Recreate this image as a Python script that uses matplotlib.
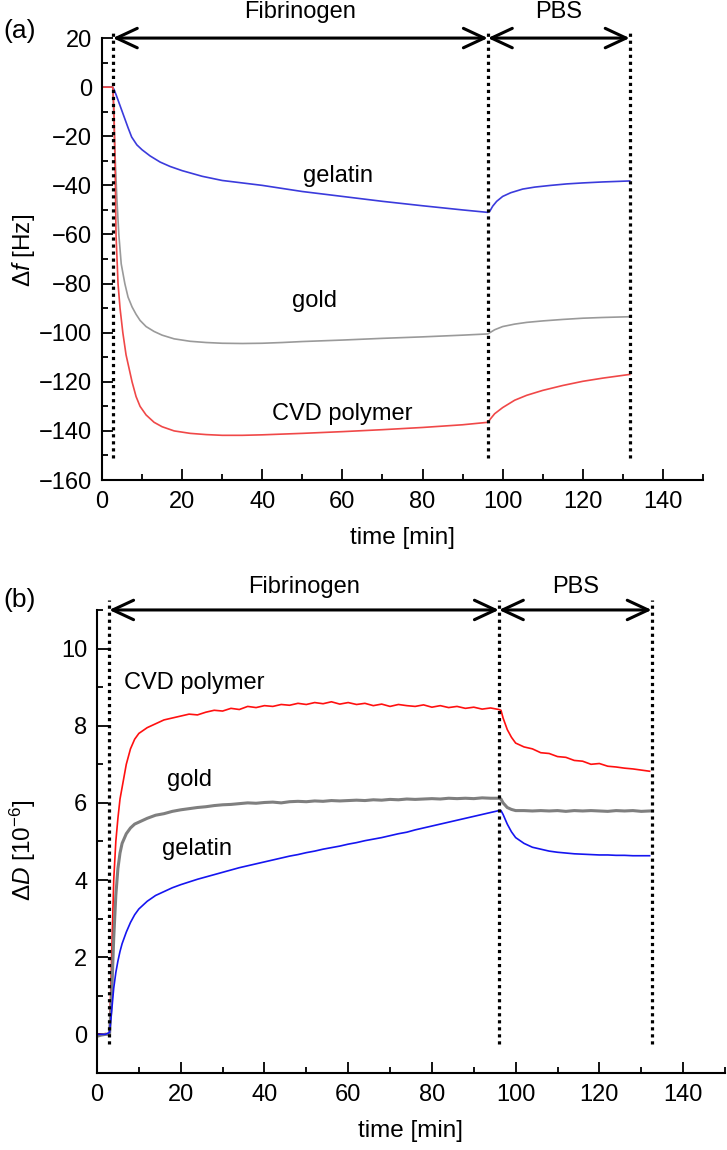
import matplotlib
matplotlib.use("Agg")
import matplotlib.pyplot as plt
from matplotlib.ticker import MultipleLocator

plt.rcParams["font.family"] = ["Liberation Sans", "DejaVu Sans"]
plt.rcParams["mathtext.fontset"] = "custom"
plt.rcParams["mathtext.it"] = "Liberation Sans:italic"
plt.rcParams["mathtext.rm"] = "Liberation Sans"

# panel (a): frequency shift
t_gelatin_a = [0, 2.7, 3.0, 3.5, 4.5, 5.5, 6.5, 7.4, 8.7, 10, 12, 14.5, 17, 20, 25, 30, 35,
               40, 50, 60, 70, 80, 90, 96.3, 96.8, 97.5, 98.5, 100, 102, 105, 108, 112, 116,
               120, 125, 131.7]
f_gelatin = [0, 0, -1, -3, -7.5, -12, -16.5, -20.3, -23.5, -25.5, -28, -30.5, -32.3, -34,
             -36.3, -38, -39, -40, -42.5, -44.5, -46.5, -48.3, -50, -51, -50.5, -48.5,
             -46.5, -44.5, -43, -41.5, -40.7, -40, -39.4, -39, -38.6, -38.2]

t_gold_a = [0, 2.7, 3.2, 3.7, 4.2, 4.8, 5.7, 6.5, 7.5, 8.5, 9.5, 11, 13, 15, 18, 22, 26, 30,
            35, 40, 45, 50, 60, 70, 80, 90, 96.3, 97, 98, 100, 103, 106, 110, 115, 120, 125,
            131.7]
f_gold = [0, 0, -25, -45, -60, -72, -80, -85.5, -89.5, -92.5, -95, -97.5, -99.5, -101,
          -102.5, -103.5, -104, -104.3, -104.4, -104.3, -104, -103.6, -103, -102.3, -101.7,
          -101, -100.5, -99.8, -98.8, -97.5, -96.5, -95.8, -95.2, -94.6, -94.1, -93.8, -93.5]

t_cvd_a = [0, 2.7, 3.0, 3.3, 3.5, 4.0, 4.5, 5.2, 6.0, 7.5, 8.5, 9.5, 11, 13, 15, 18, 22, 26,
           30, 35, 40, 50, 60, 70, 80, 90, 96.3, 97, 98, 100, 103, 106, 110, 115, 120, 125,
           131.7]
f_cvd = [0, 0, -10, -35, -60, -80, -90, -100, -109, -120, -126, -130, -133.5, -136.5, -138.3,
         -140, -141, -141.5, -141.8, -141.8, -141.6, -141, -140.3, -139.5, -138.6, -137.5,
         -136.5, -135, -133, -130.5, -127.5, -125.5, -123.5, -121.5, -119.8, -118.5, -117]

# panel (b): dissipation shift
t_b = [0, 1, 2, 3, 3.5, 4, 4.5, 5, 5.5, 6, 7, 8, 9, 10,
       12, 14, 16, 18, 20, 22, 24, 26, 28, 30, 32, 34, 36, 38, 40, 42, 44, 46, 48, 50,
       52, 54, 56, 58, 60, 62, 64, 66, 68, 70, 72, 74, 76, 78, 80, 82, 84, 86, 88, 90,
       92, 94, 96, 96.5, 97, 98, 99, 100,
       102, 104, 106, 108, 110, 112, 114, 116, 118, 120, 122, 124, 126, 128, 130, 132]
d_cvd = [0.0, 0.0, 0.02, 0.0, 2.0, 4.0, 5.0, 5.6, 6.1, 6.4, 7.0, 7.4, 7.65, 7.8,
         7.95, 8.05, 8.15, 8.2, 8.25, 8.3, 8.28, 8.35, 8.4, 8.38, 8.45, 8.42, 8.5, 8.47,
         8.52, 8.5, 8.55, 8.53, 8.58, 8.55, 8.6, 8.57, 8.62, 8.56, 8.6, 8.55, 8.58, 8.52,
         8.56, 8.5, 8.55, 8.52, 8.5, 8.54, 8.48, 8.52, 8.47, 8.5, 8.45, 8.48, 8.43, 8.46,
         8.42, 8.4, 8.2, 7.9, 7.7, 7.55,
         7.45, 7.4, 7.3, 7.28, 7.2, 7.18, 7.1, 7.08, 7.0, 7.02, 6.95, 6.93, 6.9, 6.88,
         6.85, 6.82]
d_gold = [-0.05, -0.02, 0.0, 0.0, 1.0, 2.5, 3.6, 4.3, 4.7, 4.95, 5.2, 5.35, 5.45, 5.5,
          5.6, 5.68, 5.72, 5.78, 5.82, 5.85, 5.88, 5.9, 5.93, 5.95, 5.96, 5.98, 6.0, 5.99,
          6.01, 6.02, 6.0, 6.03, 6.04, 6.03, 6.05, 6.04, 6.06, 6.05, 6.06, 6.07, 6.06, 6.08,
          6.07, 6.09, 6.08, 6.1, 6.09, 6.1, 6.11, 6.1, 6.12, 6.11, 6.12, 6.11, 6.13, 6.12,
          6.12, 6.1, 6.0, 5.88, 5.83, 5.8,
          5.8, 5.79, 5.8, 5.79, 5.8, 5.78, 5.8, 5.79, 5.8, 5.79, 5.78, 5.8, 5.79, 5.8,
          5.78, 5.79]
d_gelatin = [0.0, 0.0, 0.0, 0.05, 0.6, 1.2, 1.6, 1.9, 2.15, 2.35, 2.65, 2.9, 3.1, 3.25,
             3.45, 3.6, 3.7, 3.8, 3.88, 3.95, 4.02, 4.08, 4.14, 4.2, 4.26, 4.32, 4.37, 4.42,
             4.47, 4.52, 4.57, 4.62, 4.66, 4.71, 4.75, 4.8, 4.84, 4.88, 4.93, 4.97, 5.02,
             5.06, 5.1, 5.15, 5.2, 5.24, 5.3, 5.35, 5.4, 5.45, 5.5, 5.55, 5.6, 5.65, 5.7,
             5.75, 5.8, 5.8, 5.7, 5.45, 5.25, 5.1,
             4.95, 4.85, 4.8, 4.75, 4.72, 4.7, 4.68, 4.67, 4.66, 4.65, 4.65, 4.64, 4.64,
             4.63, 4.63, 4.63]

# phase boundaries [min]
t_start_a, t_switch_a, t_end_a = 2.7, 96.3, 131.7
t_start_b, t_switch_b, t_end_b = 2.9, 96.0, 132.5

FS = 17


def style_axes(ax):
    for s in ["top", "right"]:
        ax.spines[s].set_visible(False)
    for s in ["left", "bottom"]:
        ax.spines[s].set_linewidth(1.5)
    ax.tick_params(which="both", direction="in", width=1.3, labelsize=FS)
    ax.tick_params(which="major", length=8)
    ax.tick_params(which="minor", length=4)
    ax.tick_params(axis="x", pad=8)
    ax.tick_params(axis="y", pad=7)
    ax.xaxis.set_major_locator(MultipleLocator(20))
    ax.xaxis.set_minor_locator(MultipleLocator(10))
    ax.set_xlim(0, 150)
    ax.set_xlabel("time [min]", fontsize=FS + 0.5, labelpad=10)


def phases(ax, t0, t1, t2, ytop, ydot, ybot, ytxt):
    for t in (t0, t1, t2):
        ax.plot([t, t], [ybot, ydot], color="k", lw=2.3, ls=(0, (1, 1.2)),
                clip_on=False)
    arrow = dict(arrowstyle="<->,head_length=0.75,head_width=0.35", lw=2.2,
                 color="k", mutation_scale=20, shrinkA=0, shrinkB=0)
    ax.annotate("", xy=(t1, ytop), xytext=(t0, ytop), arrowprops=arrow,
                annotation_clip=False)
    ax.annotate("", xy=(t2, ytop), xytext=(t1, ytop), arrowprops=arrow,
                annotation_clip=False)
    ax.text((t0 + t1) / 2, ytxt, "Fibrinogen", ha="center", va="center", fontsize=FS,
            clip_on=False)
    ax.text((t1 + t2) / 2, ytxt, "PBS", ha="center", va="center", fontsize=FS,
            clip_on=False)


fig = plt.figure(figsize=(7.27, 11.5), dpi=100)

# (a)
ax1 = fig.add_axes([0.1403, 0.5826, 0.8267, 0.3843])
ax1.plot(t_gelatin_a, f_gelatin, color="#3b3bdc", lw=1.2)
ax1.plot(t_gold_a, f_gold, color="#9a9a9a", lw=1.2)
ax1.plot(t_cvd_a, f_cvd, color="#f04848", lw=1.2)
style_axes(ax1)
ax1.set_ylim(-160, 20)
ax1.yaxis.set_major_locator(MultipleLocator(20))
ax1.yaxis.set_minor_locator(MultipleLocator(10))
ax1.set_ylabel(r"$\mathit{\Delta f}$ [Hz]", fontsize=FS + 0.5, va="center")
ax1.yaxis.set_label_coords(-0.131, 0.52)
phases(ax1, t_start_a, t_switch_a, t_end_a, 20, 23, -151, 30.5)
ax1.text(59, -36, "gelatin", ha="center", va="center", fontsize=FS)
ax1.text(53, -87, "gold", ha="center", va="center", fontsize=FS)
ax1.text(60, -133, "CVD polymer", ha="center", va="center", fontsize=FS)
fig.text(0.004, 0.973, "(a)", fontsize=19, va="center")

# (b)
ax2 = fig.add_axes([0.1334, 0.067, 0.8638, 0.4026])
ax2.plot(t_b, d_cvd, color="#ff1010", lw=1.2)
ax2.plot(t_b, d_gold, color="#7f7f7f", lw=2.2)
ax2.plot(t_b, d_gelatin, color="#1515f0", lw=1.2)
style_axes(ax2)
ax2.set_ylim(-1, 11)
ax2.yaxis.set_major_locator(MultipleLocator(2))
ax2.yaxis.set_minor_locator(MultipleLocator(1))
ax2.set_ylabel(r"$\mathit{\Delta D}$ [10$^{-6}$]", fontsize=FS + 0.5, va="center")
ax2.yaxis.set_label_coords(-0.118, 0.48)
phases(ax2, t_start_b, t_switch_b, t_end_b, 11, 11.25, -0.25, 11.6)
ax2.text(6.5, 9.1, "CVD polymer", ha="left", va="center", fontsize=FS)
ax2.text(22, 6.6, "gold", ha="center", va="center", fontsize=FS)
ax2.text(24, 4.8, "gelatin", ha="center", va="center", fontsize=FS)
fig.text(0.004, 0.478, "(b)", fontsize=19, va="center")

fig.savefig("out.png", dpi=100)
